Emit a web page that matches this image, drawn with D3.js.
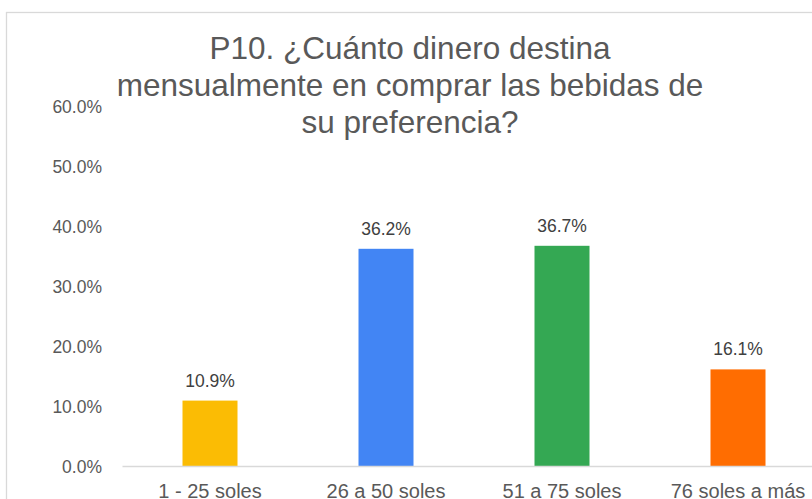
<!DOCTYPE html>
<html>
<head>
<meta charset="utf-8">
<script src="https://cdn.jsdelivr.net/npm/d3@7"></script>
<style>
  body { margin: 0; background: #fff; }
  svg { display: block; font-family: "Liberation Sans", Arial, sans-serif; }
</style>
</head>
<body>
<svg></svg>
<script>
const width = 812, height = 499;
const margin = { left: 122, right: -14, top: 106, bottom: 33 };

// data
const categories = ["1 - 25 soles", "26 a 50 soles", "51 a 75 soles", "76 soles a más"];
const values = [0.109, 0.362, 0.367, 0.161];
const colors = ["#FBBC04", "#4285F4", "#34A853", "#FF6D01"];
const y_ticks = [0, 0.1, 0.2, 0.3, 0.4, 0.5, 0.6];
const title_lines = ["P10. ¿Cuánto dinero destina", "mensualmente en comprar las bebidas de", "su preferencia?"];

const svg = d3.select("svg").attr("width", width).attr("height", height);

// chart frame (right edge is cut off in the picture)
svg.append("rect")
  .attr("x", 6.5).attr("y", 12.5)
  .attr("width", 830).attr("height", 520)
  .attr("fill", "#fff")
  .attr("stroke", "#d9d9d9")
  .attr("stroke-width", 1.3);

const x_scale = d3.scaleBand()
  .domain(categories)
  .range([margin.left, width - margin.right])
  .paddingInner(0.6875)
  .paddingOuter(0.34375);

const y_scale = d3.scaleLinear()
  .domain([0, 0.6])
  .range([height - margin.bottom, margin.top]);

// y axis labels
const y_axis = d3.axisLeft(y_scale)
  .tickValues(y_ticks)
  .tickSize(0)
  .tickPadding(0)
  .tickFormat(d3.format(".1%"));

svg.append("g")
  .attr("transform", "translate(102,0)")
  .call(y_axis)
  .call(g => g.select(".domain").remove())
  .call(g => g.selectAll("text")
    .attr("fill", "#595959")
    .style("font-size", "17.5px")
    .attr("dy", "0.35em"));

// bars
svg.append("g")
  .selectAll("rect")
  .data(values)
  .join("rect")
  .attr("x", (d, i) => x_scale(categories[i]))
  .attr("y", d => y_scale(d))
  .attr("width", x_scale.bandwidth())
  .attr("height", d => y_scale(0) - y_scale(d))
  .attr("fill", (d, i) => colors[i]);

// x axis
const x_axis = d3.axisBottom(x_scale).tickSize(0).tickPadding(0);

svg.append("g")
  .attr("transform", `translate(0,${y_scale(0)})`)
  .call(x_axis)
  .call(g => g.select(".domain")
    .attr("stroke", "#d9d9d9")
    .attr("stroke-width", 1.5))
  .call(g => g.selectAll("text")
    .attr("fill", "#595959")
    .attr("y", 32)
    .attr("dy", null)
    .style("font-size", "20px"));

// data labels
svg.append("g")
  .selectAll("text")
  .data(values)
  .join("text")
  .attr("x", (d, i) => x_scale(categories[i]) + x_scale.bandwidth() / 2)
  .attr("y", d => y_scale(d) - 14)
  .attr("text-anchor", "middle")
  .attr("fill", "#404040")
  .style("font-size", "17.5px")
  .text(d3.format(".1%"));

// title
svg.append("text")
  .attr("x", 410)
  .attr("y", 59)
  .attr("text-anchor", "middle")
  .attr("fill", "#595959")
  .style("font-size", "31.5px")
  .selectAll("tspan")
  .data(title_lines)
  .join("tspan")
  .attr("x", 410)
  .attr("dy", (d, i) => i === 0 ? 0 : 37)
  .text(d => d);
</script>
</body>
</html>
